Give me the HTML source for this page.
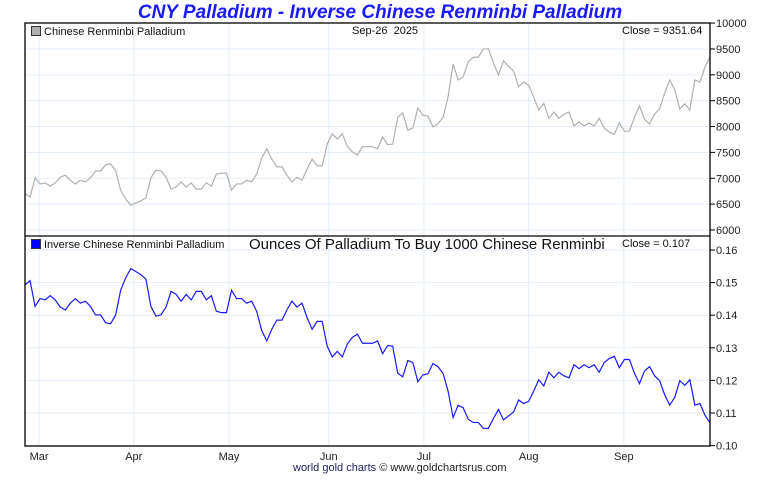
<!DOCTYPE html>
<html><head><meta charset="utf-8"><style>
body{margin:0;background:#fff;width:760px;height:475px;overflow:hidden;font-family:"Liberation Sans",sans-serif}
svg text{font-family:"Liberation Sans",sans-serif}
</style></head><body>
<svg id="c" width="760" height="475"></svg>
<script>
const cnyPalladium=[6700,6640,7010,6890,6910,6850,6910,7020,7060,6960,6890,6960,6930,7010,7140,7140,7260,7280,7140,6770,6600,6480,6520,6560,6620,7010,7160,7140,7020,6790,6830,6930,6830,6910,6790,6790,6910,6850,7080,7100,7100,6770,6890,6890,6960,6930,7080,7390,7570,7370,7220,7220,7060,6930,7020,6960,7180,7370,7240,7240,7660,7860,7760,7860,7620,7510,7450,7610,7610,7610,7570,7800,7650,7660,8180,8260,7930,7970,8360,8220,8200,7990,8050,8180,8570,9210,8900,8960,9250,9340,9340,9500,9500,9230,9000,9270,9170,9070,8770,8860,8800,8570,8320,8450,8160,8280,8160,8240,8280,8010,8090,8010,8070,8010,8160,7970,7890,7850,8070,7910,7910,8180,8400,8140,8050,8240,8340,8650,8900,8710,8340,8440,8320,8900,8860,9150,9350];
const inversePalladium=[.1493,.1506,.1427,.1451,.1447,.1460,.1447,.1425,.1416,.1437,.1451,.1437,.1443,.1427,.1401,.1401,.1377,.1374,.1401,.1477,.1515,.1543,.1534,.1524,.1511,.1427,.1397,.1401,.1425,.1473,.1464,.1443,.1464,.1447,.1473,.1473,.1447,.1460,.1412,.1408,.1408,.1477,.1451,.1451,.1437,.1443,.1412,.1353,.1321,.1357,.1385,.1385,.1416,.1443,.1425,.1437,.1393,.1357,.1381,.1381,.1305,.1272,.1289,.1272,.1312,.1332,.1342,.1314,.1314,.1314,.1321,.1282,.1307,.1305,.1222,.1211,.1261,.1255,.1196,.1217,.1220,.1252,.1242,.1222,.1167,.1086,.1124,.1116,.1081,.1071,.1071,.1053,.1053,.1083,.1111,.1079,.1091,.1103,.1140,.1129,.1136,.1167,.1202,.1183,.1225,.1208,.1225,.1214,.1208,.1248,.1236,.1248,.1239,.1248,.1225,.1255,.1267,.1274,.1239,.1264,.1264,.1222,.1190,.1229,.1242,.1214,.1199,.1156,.1124,.1148,.1199,.1185,.1202,.1124,.1129,.1093,.1070];
const monthLabels=["Mar","Apr","May","Jun","Jul","Aug","Sep"];
const monthIndex=[2.8,21.6,40.5,60.3,79.2,100.0,118.9];
const topTicks=[6000,6500,7000,7500,8000,8500,9000,9500,10000];
const bottomTicks=[0.10,0.11,0.12,0.13,0.14,0.15,0.16];

const NS="http://www.w3.org/2000/svg",svg=document.getElementById('c');
const L=25,R=710,T1=23,B1=236,B2=446;
function mk(t,a,p){const e=document.createElementNS(NS,t);for(const k in a)e.setAttribute(k,a[k]);(p||svg).appendChild(e);return e;}
const n=cnyPalladium.length;
const xi=i=>L+i*(R-L)/(n-1);
const yTop=v=>23.1+(10000-v)/500*25.86;
const yBot=v=>250+(0.16-v)/0.01*32.6;

monthIndex.forEach((m,i)=>{
 const g=mk('line',{x1:xi(m),x2:xi(m),y1:T1,y2:B2,stroke:'#e3eef9','stroke-width':1});
 
 
 const t=mk('text',{x:xi(m),y:460,'font-size':11,'text-anchor':'middle',fill:'#222'});
 t.textContent=monthLabels[i];
 
 
});
topTicks.forEach(v=>{
 const y=yTop(v);
 if(v<10000){const g=mk('line',{x1:L,x2:R,y1:y,y2:y,stroke:'#e3eef9'});
 
 }
 mk('line',{x1:R,x2:R+5,y1:y,y2:y,stroke:'#000'});
 const t=mk('text',{x:716,y:y+4,'font-size':11,fill:'#222'});
 t.textContent=v;
 
 
});
bottomTicks.forEach(v=>{
 const y=yBot(v);
 const g=mk('line',{x1:L,x2:R,y1:y,y2:y,stroke:'#e3eef9'});
 
 
 mk('line',{x1:R,x2:R+5,y1:y,y2:y,stroke:'#000'});
 const t=mk('text',{x:716,y:y+4,'font-size':11,fill:'#222'});
 t.textContent=v.toFixed(2);
 
 
});
const l1=mk('polyline',{points:cnyPalladium.map((v,i)=>xi(i)+','+yTop(v)).join(' '),fill:'none',stroke:'#b0b0b0','stroke-width':1.2});


const l2=mk('polyline',{points:inversePalladium.map((v,i)=>xi(i)+','+yBot(v)).join(' '),fill:'none',stroke:'#1a1aff','stroke-width':1.2});


mk('rect',{x:L,y:T1,width:R-L,height:B2-T1,fill:'none',stroke:'#000','stroke-width':1.3});
mk('line',{x1:L,x2:R,y1:B1,y2:B1,stroke:'#000','stroke-width':1.3});
</script>
<div style="position:absolute;left:0;top:0;width:760px;height:475px;pointer-events:none">
<div style="position:absolute;left:0;width:760px;top:2px;text-align:center;color:#1a1aff;font:italic bold 19px 'Liberation Sans',sans-serif">CNY Palladium - Inverse Chinese Renminbi Palladium</div>
<div style="position:absolute;left:31px;top:26px;font-size:11px;color:#111"><span style="display:inline-block;width:8px;height:8px;background:#b0b0b0;border:1px solid #333;margin-right:3px;vertical-align:-1px"></span>Chinese Renminbi Palladium</div>
<div style="position:absolute;left:352px;top:25px;font-size:11px;color:#111">Sep-26&nbsp; 2025</div>
<div style="position:absolute;left:622px;top:25px;font-size:11px;color:#111">Close = 9351.64</div>
<div style="position:absolute;left:31px;top:239px;font-size:11px;color:#111"><span style="display:inline-block;width:8px;height:8px;background:#0000ff;border:1px solid #333;margin-right:3px;vertical-align:-1px"></span>Inverse Chinese Renminbi Palladium</div>
<div style="position:absolute;left:249px;top:236px;font-size:15px;color:#111">Ounces Of Palladium To Buy 1000 Chinese Renminbi</div>
<div style="position:absolute;left:622px;top:238px;font-size:11px;color:#111">Close = 0.107</div>
<div style="position:absolute;left:293px;top:462px;font-size:11px;color:#222"><span style="color:#1a1a60">world gold charts</span> © www.goldchartsrus.com</div>
</div>
</body></html>
